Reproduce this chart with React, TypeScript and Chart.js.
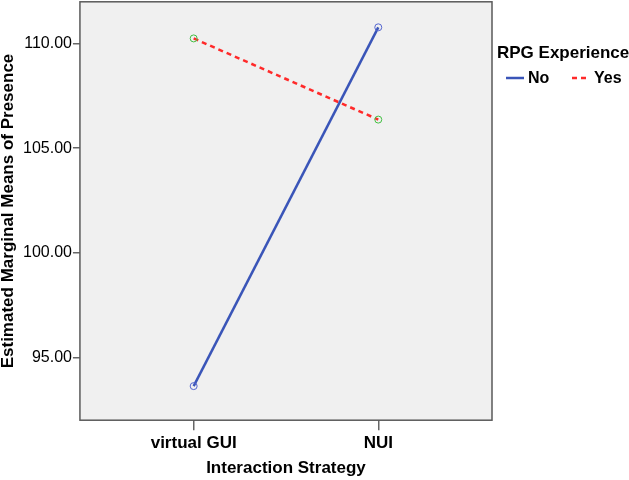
import React, { useEffect, useRef } from "react";
import { Chart, registerables } from "chart.js";

Chart.register(...registerables);

const categories = ["virtual GUI", "NUI"];
const seriesNames = ["No", "Yes"];
const noValues = [93.63, 110.78];
const yesValues = [110.25, 106.37];
const yTickValues = [95, 100, 105, 110];
const legendTitle = "RPG Experience";
const xTitle = "Interaction Strategy";
const yTitle = "Estimated Marginal Means of Presence";

const FONT = "'Liberation Sans', Arial, sans-serif";

const framePlugin = {
  id: "frame",
  beforeDraw(chart: any) {
    const { ctx, chartArea: a } = chart;
    ctx.save();
    ctx.fillStyle = "#ffffff";
    ctx.fillRect(0, 0, chart.width, chart.height);
    ctx.fillStyle = "#f0f0f0";
    ctx.fillRect(a.left, a.top, a.right - a.left, a.bottom - a.top);
    ctx.restore();
  },
  beforeDatasetsDraw(chart: any) {
    const { ctx, chartArea: a } = chart;
    ctx.save();
    ctx.strokeStyle = "#5a5a5a";
    ctx.lineWidth = 1.5;
    ctx.strokeRect(a.left, a.top, a.right - a.left, a.bottom - a.top);
    ctx.restore();
  },
  afterDraw(chart: any) {
    const { ctx, chartArea: a } = chart;
    ctx.save();
    ctx.fillStyle = "#000";
    ctx.textBaseline = "middle";
    ctx.textAlign = "left";
    ctx.font = `bold 17px ${FONT}`;
    ctx.fillText(legendTitle, a.right + 5, 53);
    chart.data.datasets.forEach((ds: any, i: number) => {
      const x0 = a.right + 14 + i * 66;
      const y = 78;
      ctx.strokeStyle = ds.borderColor;
      ctx.lineWidth = 2.5;
      ctx.setLineDash(ds.borderDash || []);
      ctx.beginPath();
      ctx.moveTo(x0, y);
      ctx.lineTo(x0 + 18, y);
      ctx.stroke();
      ctx.setLineDash([]);
      ctx.font = `bold 16px ${FONT}`;
      ctx.fillStyle = "#000";
      ctx.fillText(ds.label, x0 + 22, y + 1);
    });
    ctx.restore();
  },
};

export default function App() {
  const ref = useRef<HTMLCanvasElement | null>(null);
  useEffect(() => {
    document.body.style.margin = "0";
    const canvas = ref.current!;
    const chart = new Chart(canvas, {
      type: "line",
      data: {
        datasets: [
          {
            label: seriesNames[0],
            data: noValues.map((v, i) => ({ x: i, y: v })),
            borderColor: "#3a55b8",
            borderWidth: 2.5,
            pointRadius: 3.5,
            pointBorderWidth: 1,
            pointBorderColor: "#5566d0",
            pointBackgroundColor: "rgba(0,0,0,0)",
            tension: 0,
          },
          {
            label: seriesNames[1],
            data: yesValues.map((v, i) => ({ x: i, y: v })),
            borderColor: "#ff2a2a",
            borderWidth: 2.5,
            borderDash: [5, 4],
            pointRadius: 3.5,
            pointBorderWidth: 1,
            pointBorderColor: "#44c044",
            pointBackgroundColor: "rgba(0,0,0,0)",
            tension: 0,
          },
        ],
      },
      options: {
        animation: false,
        responsive: true,
        maintainAspectRatio: false,
        layout: { autoPadding: false, padding: { top: 0.5, right: 137, left: 0, bottom: 0 } },
        plugins: {
          legend: { display: false },
          tooltip: { enabled: false },
        },
        scales: {
          x: {
            type: "linear",
            min: -0.616,
            max: 1.616,
            afterBuildTicks: (axis: any) => {
              axis.ticks = categories.map((_, i) => ({ value: i }));
            },
            ticks: {
              callback: (v: any) => categories[v as number] ?? "",
              color: "#000",
              font: { family: FONT, size: 17, weight: "bold" },
              padding: 3,
              maxRotation: 0,
              autoSkip: false,
            },
            grid: {
              drawOnChartArea: false,
              drawTicks: true,
              tickLength: 10,
              color: "#666",
              lineWidth: 1.5,
            },
            border: { display: false },
            title: {
              display: true,
              text: xTitle,
              color: "#000",
              font: { family: FONT, size: 17, weight: "bold" },
              padding: { top: 2, bottom: 1 },
            },
          },
          y: {
            type: "linear",
            min: 92,
            max: 112,
            afterBuildTicks: (axis: any) => {
              axis.ticks = yTickValues.map((v) => ({ value: v }));
            },
            ticks: {
              callback: (v: any) => Number(v).toFixed(2),
              color: "#000",
              font: { family: FONT, size: 16, lineHeight: 0.1 },
              padding: 1,
            },
            grid: {
              drawOnChartArea: false,
              drawTicks: true,
              tickLength: 7,
              color: "#666",
              lineWidth: 1.5,
            },
            border: { display: false },
            title: {
              display: true,
              text: yTitle,
              color: "#000",
              font: { family: FONT, size: 17, weight: "bold", lineHeight: 1 },
              padding: { top: 0, bottom: 5 },
            },
          },
        },
      },
      plugins: [framePlugin],
    } as any);
    return () => chart.destroy();
  }, []);
  return (
    <div style={{ position: "relative", width: 629, height: 480 }}>
      <canvas ref={ref} />
    </div>
  );
}
